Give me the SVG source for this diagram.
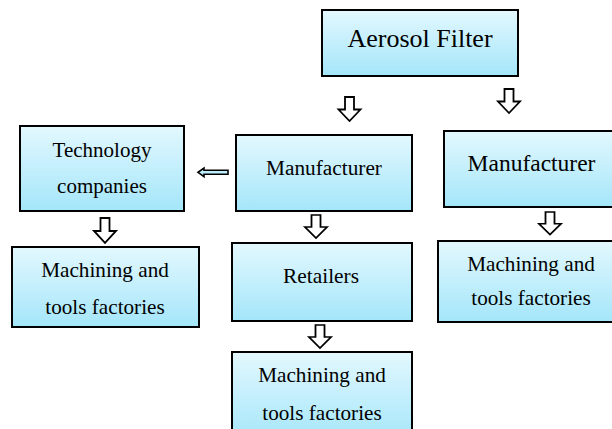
<svg xmlns="http://www.w3.org/2000/svg" width="612" height="429" viewBox="0 0 612 429">
  <defs>
    <linearGradient id="boxFill" x1="0" y1="0" x2="0" y2="1">
      <stop offset="0" stop-color="#e3f8fe"/>
      <stop offset="1" stop-color="#a4e6fa"/>
    </linearGradient>
    <!-- hollow block arrow pointing down, origin at top centre, 24 tall -->
    <path id="downArrow" d="M-4.5,0 H4.5 V12.5 H11 L0,24 L-11,12.5 H-4.5 Z"/>
  </defs>
  <style>
    .box { fill: url(#boxFill); stroke: #000; stroke-width: 2; }
    .lbl { font-family: "Liberation Serif", "Times New Roman", serif; fill: #000; text-anchor: middle; }
    .arrow { fill: #fff; stroke: #000; stroke-width: 1.8; stroke-linejoin: miter; }
    .arrowBlue { fill: #bdeefc; stroke: #000; stroke-width: 1.6; }
  </style>

  <rect width="612" height="429" fill="#fff"/>

  <g id="aerosol-filter">
    <rect class="box" x="322" y="10" width="196" height="66"/>
    <text class="lbl" x="420" y="47" font-size="26">Aerosol Filter</text>
  </g>

  <g id="technology-companies">
    <rect class="box" x="20" y="126" width="164" height="85"/>
    <text class="lbl" x="102" y="157" font-size="21">Technology</text>
    <text class="lbl" x="102" y="193" font-size="21">companies</text>
  </g>

  <g id="manufacturer-middle">
    <rect class="box" x="236" y="135" width="176" height="76"/>
    <text class="lbl" x="324" y="175" font-size="21.3">Manufacturer</text>
  </g>

  <g id="manufacturer-right">
    <rect class="box" x="444" y="131" width="176" height="76"/>
    <text class="lbl" x="531.5" y="171" font-size="23.5">Manufacturer</text>
  </g>

  <g id="machining-left">
    <rect class="box" x="12" y="247" width="187" height="80"/>
    <text class="lbl" x="105" y="277" font-size="21.2">Machining and</text>
    <text class="lbl" x="105" y="314" font-size="21.2">tools factories</text>
  </g>

  <g id="retailers">
    <rect class="box" x="232" y="243" width="180" height="78"/>
    <text class="lbl" x="321" y="283" font-size="21.4">Retailers</text>
  </g>

  <g id="machining-right">
    <rect class="box" x="438" y="241" width="186" height="81"/>
    <text class="lbl" x="531" y="271" font-size="21.2">Machining and</text>
    <text class="lbl" x="531" y="305" font-size="21.2">tools factories</text>
  </g>

  <g id="machining-bottom">
    <rect class="box" x="232" y="352" width="180" height="90"/>
    <text class="lbl" x="322" y="382" font-size="21.2">Machining and</text>
    <text class="lbl" x="322" y="420" font-size="21.2">tools factories</text>
  </g>

  <g id="connectors">
    <use href="#downArrow" class="arrow" transform="translate(349.5,97)"/>
    <use href="#downArrow" class="arrow" transform="translate(509,89)"/>
    <use href="#downArrow" class="arrow" transform="translate(105,218) scale(1,1.04)"/>
    <use href="#downArrow" class="arrow" transform="translate(316,215) scale(1,0.96)"/>
    <use href="#downArrow" class="arrow" transform="translate(320,325) scale(1,0.96)"/>
    <use href="#downArrow" class="arrow" transform="translate(550,212) scale(1,0.94)"/>
    <!-- small arrow from the middle manufacturer to technology companies -->
    <path class="arrowBlue" d="M228,170.3 H204 V168 L198,172.3 L204,176.6 V174.3 H228 Z"/>
  </g>
</svg>
